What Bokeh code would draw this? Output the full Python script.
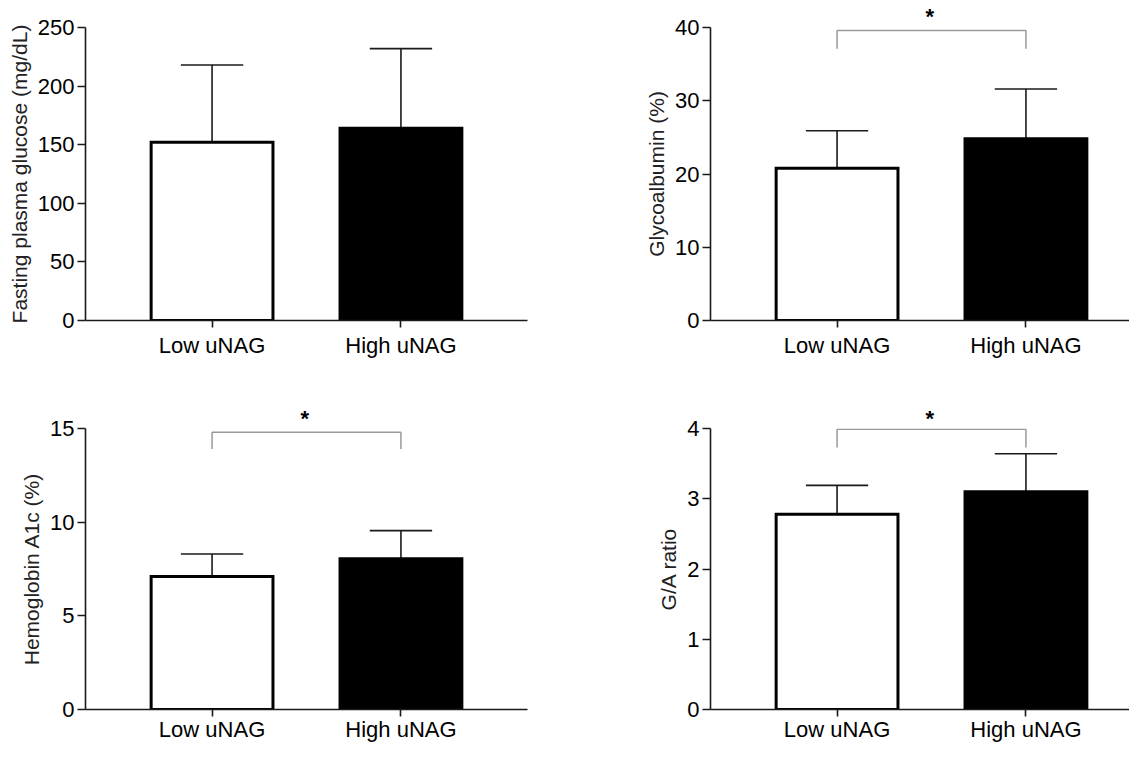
from bokeh.plotting import figure
from bokeh.layouts import column, row
from bokeh.models import FixedTicker, Range1d
from bokeh.embed import file_html
from bokeh.resources import INLINE

# ---------------- data ----------------
categories = ["Low uNAG", "High uNAG"]
bar_colors = ["white", "black"]

fpg_mean = [152, 164]
fpg_sd = [66, 68]
ga_mean = [20.8, 24.8]
ga_sd = [5.1, 6.8]
hba1c_mean = [7.1, 8.05]
hba1c_sd = [1.2, 1.5]
ratio_mean = [2.78, 3.10]
ratio_sd = [0.41, 0.54]

fpg_ticks = [0, 50, 100, 150, 200, 250]
ga_ticks = [0, 10, 20, 30, 40]
hba1c_ticks = [0, 5, 10, 15]
ratio_ticks = [0, 1, 2, 3, 4]

# significance brackets: [bracket level, end of the drops, label]
fpg_sig = None
ga_sig = [39.6, 37.1, "*"]
hba1c_sig = [14.8, 13.9, "*"]
ratio_sig = [3.99, 3.73, "*"]

# ---------------- style ----------------
FONT = "Liberation Sans"
AXIS_COLOR = "#1a1a1a"
X_START = 0.33
X_END_LEFT = 2.67
LEFT_FRAME_W = 442
PX_PER_UNIT = LEFT_FRAME_W / (X_END_LEFT - X_START)


def panel(mean, sd, ticks, ylabel, sig, width, height, b_left, b_right, b_top,
          b_bottom, x_label_standoff, star_standoff):
    xs = [i + 1 for i in range(len(categories))]
    frame_w = width - b_left - b_right
    x_end = X_START + frame_w / PX_PER_UNIT
    p = figure(width=width, height=height,
               x_range=Range1d(X_START, x_end), y_range=Range1d(ticks[0], ticks[-1]),
               output_backend="svg", toolbar_location=None,
               min_border_left=b_left, min_border_right=b_right,
               min_border_top=b_top, min_border_bottom=b_bottom)
    p.outline_line_color = None
    p.grid.visible = False
    p.background_fill_color = "white"
    p.border_fill_color = "white"

    upper = [m + s for m, s in zip(mean, sd)]
    cap = 0.165
    # error bars (upper only)
    p.segment(x0=xs, y0=mean, x1=xs, y1=upper, line_color=AXIS_COLOR, line_width=1.6)
    p.segment(x0=[x - cap for x in xs], y0=upper, x1=[x + cap for x in xs], y1=upper,
              line_color=AXIS_COLOR, line_width=1.6)
    # bars
    p.vbar(x=xs, top=mean, bottom=0, width=0.645, fill_color=bar_colors,
           line_color="black", line_width=3, line_join="miter")

    if sig is not None:
        top, drop, lab = sig
        p.multi_line(xs=[[xs[0], xs[0], xs[1], xs[1]]], ys=[[drop, top, top, drop]],
                     line_color="#9a9a9a", line_width=1.5)
        # significance mark, written as the panel's title above the bracket centre
        mid = (xs[0] + xs[1]) / 2
        p.title.text = lab
        p.title.align = "left"
        p.title.offset = (mid - X_START) * PX_PER_UNIT - 6
        try:
            p.title.standoff = star_standoff
        except Exception:
            p.title.standoff = 0
        p.title.text_font = FONT
        p.title.text_font_size = "22px"
        p.title.text_font_style = "bold"
        p.title.text_color = "black"
        p.title.vertical_align = "bottom"
    else:
        p.title.visible = False

    # y axis
    ya = p.yaxis[0]
    ya.ticker = FixedTicker(ticks=ticks)
    ya.axis_label = ylabel
    ya.axis_label_text_font = FONT
    ya.axis_label_text_font_size = "21px"
    ya.axis_label_text_font_style = "normal"
    ya.axis_label_text_color = "#222222"
    ya.axis_label_standoff = 4
    ya.major_label_text_font = FONT
    ya.major_label_text_font_size = "22px"
    ya.major_label_text_color = "black"
    ya.major_label_standoff = 3
    ya.major_tick_out = 8
    ya.major_tick_in = 0
    ya.minor_tick_line_color = None
    ya.axis_line_width = 1.6
    ya.axis_line_color = AXIS_COLOR
    ya.major_tick_line_width = 1.6
    ya.major_tick_line_color = AXIS_COLOR

    # x axis
    xa = p.xaxis[0]
    xa.ticker = FixedTicker(ticks=xs)
    xa.major_label_overrides = {x: c for x, c in zip(xs, categories)}
    xa.major_label_text_font = FONT
    xa.major_label_text_font_size = "22px"
    xa.major_label_text_color = "black"
    xa.major_label_standoff = x_label_standoff
    xa.major_tick_out = 7
    xa.major_tick_in = 0
    xa.minor_tick_line_color = None
    xa.axis_line_width = 1.6
    xa.axis_line_color = AXIS_COLOR
    xa.major_tick_line_width = 1.6
    xa.major_tick_line_color = AXIS_COLOR
    return p


p1 = panel(fpg_mean, fpg_sd, fpg_ticks, "Fasting plasma glucose (mg/dL)", fpg_sig,
           600, 364, 85, 73, 27, 44, 5, 0)
p2 = panel(ga_mean, ga_sd, ga_ticks, "Glycoalbumin (%)", ga_sig,
           529, 364, 110, 0, 25, 44, 5, -3)
p3 = panel(hba1c_mean, hba1c_sd, hba1c_ticks, "Hemoglobin A1c (%)", hba1c_sig,
           600, 380, 85, 73, 64, 34, 0, -5)
p4 = panel(ratio_mean, ratio_sd, ratio_ticks, "G/A ratio", ratio_sig,
           529, 380, 110, 0, 64, 34, 0, -5)

layout = column(row(p1, p2, spacing=0), row(p3, p4, spacing=0), spacing=0)

open("out.html", "w").write(file_html(layout, INLINE))
